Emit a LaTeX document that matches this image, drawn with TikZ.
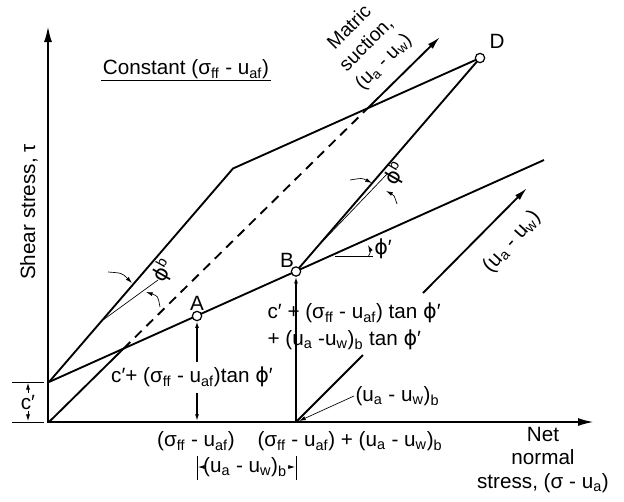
\documentclass[tikz,border=0pt]{standalone}
\usepackage{fontspec}
\setmainfont{Liberation Sans}
\newfontfamily\phifont{DejaVu Sans}
\usetikzlibrary{arrows.meta,calc}
\newcommand{\sff}{σ\textsubscript{ff}}
\newcommand{\uaf}{u\textsubscript{af}}
\newcommand{\ua}{u\textsubscript{a}}
\newcommand{\uw}{u\textsubscript{w}}
\newcommand{\vphi}{{\phifont ϕ}}
\newcommand{\phib}{\vphi\textsuperscript{b}}

\begin{document}
\begin{tikzpicture}[x=0.75pt,y=-0.75pt,>=Latex,
  lbl/.style={font=\fontsize{15.5}{18}\selectfont,inner sep=1pt},
  envelope/.style={line width=1.4pt},
  thinline/.style={line width=0.5pt},
  axis/.style={line width=1.6pt,-{Latex[length=12pt,width=6pt]}},
  opendot/.style={circle,draw,line width=0.9pt,fill=white,inner sep=0pt,minimum size=7pt},
  small/.style={-{Latex[length=5pt,width=3pt]}}]
\useasboundingbox (0,0) rectangle (624,501);

% key points of the envelope
\coordinate (O) at (49,422);
\coordinate (C) at (49,382);
\coordinate (E) at (544,160);
\coordinate (Apt) at (197,316);
\coordinate (Bpt) at (296,271.5);
\coordinate (Dpt) at (480,58);
\coordinate (K) at ($(C)+(Dpt)-(Bpt)$);
\coordinate (T) at (440,37);
\coordinate (P1) at (intersection of O--T and C--E);
\coordinate (P2) at (intersection of O--T and K--Dpt);
\coordinate (Bx) at (296,422);
\coordinate (xend) at (594,422);
\coordinate (yend) at (48,26);

% axes
\draw[axis] (48,423) -- (yend);
\draw[axis] (O) -- (xend);

% envelopes
\draw[envelope] (C) -- (E);
\draw[envelope] (C) -- (K) -- (Dpt);
\draw[envelope] (Bpt) -- (Dpt);
\draw[envelope] (O) -- (P1);
\draw[envelope,dashed,dash pattern=on 7pt off 5pt] (P1) -- (P2);
\draw[envelope,-{Latex[length=10pt,width=5pt]}] (P2) -- (T);

% second suction axis at B
\coordinate (g1) at (363,355);
\coordinate (g2) at (423,293);
\coordinate (S2) at (527,188);
\draw[envelope] (Bx) -- (g1);
\draw[envelope,-{Latex[length=10pt,width=5pt]}] (g2) -- (S2);

% points
\node[opendot] (A) at (Apt) {};
\node[opendot] (B) at (Bpt) {};
\node[opendot] (D) at (Dpt) {};
\node[lbl] at (197,303) {A};
\node[lbl] at (287,260) {B};
\node[lbl] at (497,41) {D};

% verticals
\draw[envelope,small] (197,362) -- (A.south);
\draw[envelope,small] (197,393) -- (197,421);
\draw[envelope,small] (Bx) -- (B.south);

% angles
\coordinate (tl1) at (103,320);
\coordinate (tl2) at (158,280);
\draw[thinline] (tl1) -- (tl2);
\draw[thinline,small] (108,272) .. controls (122,273) .. (132,283);
\draw[thinline,small] (160,307) .. controls (158,296) .. (146,292);
\node[lbl,rotate=60] at (163,271) {\phib};

\coordinate (tr1) at (322,242);
\coordinate (tr2) at (388,173);
\draw[thinline] (tr1) -- (tr2);
\draw[thinline,small] (350,180) .. controls (362,178) .. (372,183);
\draw[thinline,small] (397,204) .. controls (394,195) .. (386,191);
\node[lbl,rotate=60] at (395,174) {\phib};

\coordinate (h1) at (335,256);
\coordinate (h2) at (373,256);
\draw[thinline] (h1) -- (h2);
\draw[thinline,small] (368,257) .. controls (371,251) .. (368,245);
\node[lbl] at (383,249) {\vphi′};

% labels
\node[lbl,rotate=90] at (29,212) {Shear stress, τ};
\node[lbl] (title) at (186,69) {Constant (\sff{} - \uaf)};
\draw[thinline] (title.south west) -- (title.south east);
\node[lbl,rotate=45,align=center,font=\fontsize{14.5}{18}\selectfont] at (367,45) {Matric\\suction,\\(\ua{} - \uw)};
\node[lbl,rotate=48] at (512,242) {(\ua{} - \uw)};
\node[lbl] at (192,377) {c′+ (\sff{} - \uaf)tan \vphi′};
\node[lbl,anchor=west] at (266,313) {c′ + (\sff{} - \uaf) tan \vphi′};
\node[lbl,anchor=west] at (266,340) {+ (\ua{} -\uw)\textsubscript{b} tan \vphi′};
\node[lbl,align=center,font=\fontsize{15.5}{17.5}\selectfont] at (543,460) {Net\\normal\\stress, (σ - \ua)};

% (ua-uw)b leader
\node[lbl,anchor=west] (lead) at (354,396) {(\ua{} - \uw)\textsubscript{b}};
\draw[thinline,small] (lead.west) -- (299,421);

% x-axis labels
\node[lbl] at (196,441) {(\sff{} - \uaf)};
\node[lbl,anchor=west] at (256,441) {(\sff{} - \uaf) + (\ua{} - \uw)\textsubscript{b}};

% dimension below
\node[lbl] (dim) at (245,467) {(\ua{} - \uw)\textsubscript{b}};
\draw[thinline] (197,456) -- (197,480);
\draw[thinline] (296,456) -- (296,480);
\draw[thinline,small] (dim.west) -- (198,467);
\draw[thinline,small] (dim.east) -- (295,467);

% c' dimension
\draw[thinline] (12,382) -- (44,382);
\draw[thinline] (12,422) -- (44,422);
\node[lbl] (cp) at (28,402) {c′};
\draw[thinline,small] (cp.north) -- (28,383);
\draw[thinline,small] (cp.south) -- (28,421);
\end{tikzpicture}
\end{document}
